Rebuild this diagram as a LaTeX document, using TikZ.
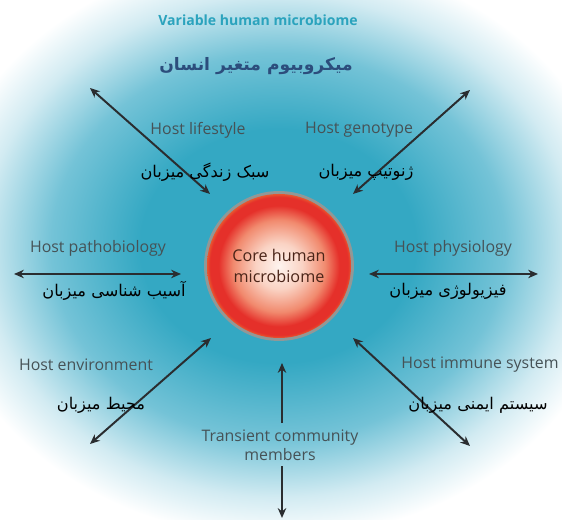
\documentclass[tikz,border=0pt]{standalone}
\usepackage{fontspec}
\setmainfont{Open Sans}
\newfontfamily\arabicfont[Script=Arabic]{DejaVu Sans}
\TeXXeTstate=1
\usetikzlibrary{arrows.meta, shapes.geometric}
\definecolor{BgTeal}{HTML}{34A8C3}
\definecolor{BgTealMid}{HTML}{74C3D7}
\definecolor{BgTealLight}{HTML}{D2EBF2}
\definecolor{TitleTeal}{HTML}{2BA3BD}
\definecolor{TitleBlue}{HTML}{2C4D7C}
\definecolor{LabelGray}{HTML}{465256}
\definecolor{ArrowDark}{HTML}{2A2D30}
\definecolor{CoreCenter}{HTML}{FEF4EF}
\definecolor{CorePink}{HTML}{FAD3C4}
\definecolor{CoreSalmon}{HTML}{F18A6E}
\definecolor{CoreRed}{HTML}{E5302A}
\definecolor{CoreRim}{HTML}{E8562E}
\definecolor{CoreText}{HTML}{4A2418}
\pgfdeclareradialshading{bgglow}{\pgfpoint{0bp}{0bp}}{%
  color(0bp)=(BgTeal); color(10bp)=(BgTeal); color(16.5bp)=(BgTealMid);
  color(21.5bp)=(BgTealLight); color(25bp)=(white); color(50bp)=(white)}
\pgfdeclareradialshading{coreglow}{\pgfpoint{0bp}{0bp}}{%
  color(0bp)=(CoreCenter); color(8bp)=(CorePink); color(16bp)=(CoreSalmon);
  color(21bp)=(CoreRed); color(24bp)=(CoreRed); color(25bp)=(CoreRim);
  color(50bp)=(CoreRim)}
\tikzset{
    hostlabel/.style={
        text=LabelGray,
        font=\fontsize{11.3}{13.5}\selectfont,
        align=center,
        inner sep=1pt
    },
    farsilabel/.style={
        text=black,
        font=\arabicfont\fontsize{11.5}{13}\selectfont,
        inner sep=1pt
    },
    corebox/.style={
        circle,
        minimum size=3.6cm,
        shading=coreglow,
        text=CoreText,
        font=\fontsize{11.5}{15}\selectfont,
        align=center
    },
    dblarrow/.style={
        {Stealth[length=7pt,width=6pt]}-{Stealth[length=7pt,width=6pt]},
        line width=1.4pt,
        ArrowDark
    },
    onearrow/.style={
        -{Stealth[length=7pt,width=6pt]},
        line width=1.4pt,
        ArrowDark
    }
}
\begin{document}
\begin{tikzpicture}
    \useasboundingbox (0,0) rectangle (14.05,13);
    % background glow
    \fill[white] (0,0) rectangle (14.05,13);
    \begin{scope}
        \clip (0,0) rectangle (14.05,13);
        \shade[shading=bgglow] (6.95,6.85) ellipse (8.6 and 7.3);
    \end{scope}

    % titles
    \node[text=TitleTeal, font=\fontsize{10}{12}\selectfont\bfseries] (title) at (6.45,12.5) {Variable human microbiome};
    \node[text=TitleBlue, font=\arabicfont\fontsize{12.2}{14}\selectfont\bfseries] (titlefa) at (6.4,11.35) {\beginR میکروبیوم متغیر انسان\endR};

    % core
    \draw[CoreRim!70, line width=2.5pt, opacity=0.5] (6.975,6.35) circle (1.83);
    \node[corebox] (core) at (6.975,6.35) {Core human\\microbiome};

    % arrow ends
    \coordinate (tlout) at (2.25,10.8);
    \coordinate (tlin) at (5.25,8.15);
    \coordinate (trout) at (11.75,10.75);
    \coordinate (trin) at (8.825,8.15);
    \coordinate (lout) at (0.35,6.15);
    \coordinate (lin) at (4.525,6.15);
    \coordinate (rin) at (9.225,6.15);
    \coordinate (rout) at (13.45,6.15);
    \coordinate (blin) at (5.275,4.55);
    \coordinate (blout) at (2.25,1.9);
    \coordinate (brin) at (8.825,4.55);
    \coordinate (brout) at (11.75,1.85);
    \coordinate (upin) at (7.05,3.925);
    \coordinate (downout) at (7.05,0.05);

    % host factors
    \node[hostlabel] (lifestyle) at (4.95,9.75) {Host lifestyle};
    \node[hostlabel] (genotype) at (8.975,9.75) {Host genotype};
    \node[hostlabel] (pathobiology) at (2.45,6.8) {Host pathobiology};
    \node[hostlabel] (physiology) at (11.325,6.8) {Host physiology};
    \node[hostlabel] (environment) at (2.15,3.875) {Host environment};
    \node[hostlabel] (immune) at (12.0,3.875) {Host immune system};
    \node[hostlabel] (transient) at (7.0,1.875) {Transient community\\members};

    % arrows
    \draw[dblarrow] (tlin) -- (tlout);
    \draw[dblarrow] (trin) -- (trout);
    \draw[dblarrow] (lin) -- (lout);
    \draw[dblarrow] (rin) -- (rout);
    \draw[dblarrow] (blin) -- (blout);
    \draw[dblarrow] (brin) -- (brout);
    \draw[onearrow] (transient.north -| upin) ++(0,0.12) -- (upin);
    \draw[onearrow] (transient.south -| downout) ++(0,-0.1) -- (downout);

    % farsi labels
    \node[farsilabel] (lifestylefa) at (5.125,8.7) {\beginR سبک زندگی میزبان\endR};
    \node[farsilabel] (genotypefa) at (9.15,8.7) {\beginR ژنوتیپ میزبان\endR};
    \node[farsilabel] (pathobiologyfa) at (2.85,5.725) {\beginR آسیب شناسی میزبان\endR};
    \node[farsilabel] (physiologyfa) at (11.2,5.725) {\beginR فیزیولوژی میزبان\endR};
    \node[farsilabel] (environmentfa) at (2.525,2.875) {\beginR محیط میزبان\endR};
    \node[farsilabel] (immunefa) at (11.95,2.875) {\beginR سیستم ایمنی میزبان\endR};
\end{tikzpicture}
\end{document}
